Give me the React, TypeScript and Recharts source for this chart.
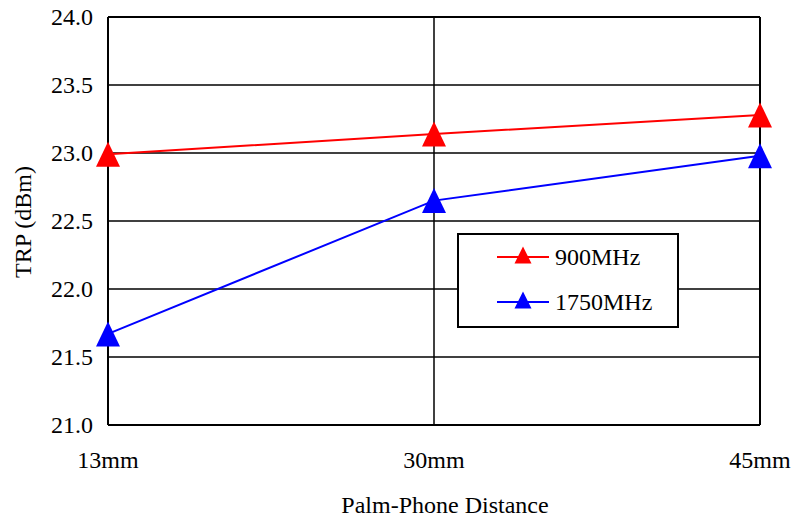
import { LineChart, Line, XAxis, YAxis, CartesianGrid, Legend, ReferenceLine } from 'recharts'

const FONT = '"Liberation Serif", "Times New Roman", serif'
const FS = 24

const categories = ['13mm', '30mm', '45mm']
const trp900 = [22.99, 23.14, 23.28]
const trp1750 = [21.67, 22.65, 22.98]
const yTicks = [21.0, 21.5, 22.0, 22.5, 23.0, 23.5, 24.0]

const SERIES = [
  { key: 'f900', name: '900MHz', color: '#ff0000', values: trp900 },
  { key: 'f1750', name: '1750MHz', color: '#0000ff', values: trp1750 },
]

const chartData = categories.map((label, i) => ({
  idx: i,
  label,
  f900: trp900[i],
  f1750: trp1750[i],
}))

function triangle(cx: number, cy: number, w: number, h: number) {
  return `${cx},${cy - h / 2} ${cx + w / 2},${cy + h / 2} ${cx - w / 2},${cy + h / 2}`
}

function makeDot(color: string) {
  return (props: any) => {
    const { cx, cy, index } = props
    if (cx == null || cy == null) return <g key={index} />
    return <polygon key={index} points={triangle(cx, cy, 24, 25)} fill={color} />
  }
}

function XTick(props: any) {
  const { x, y, payload } = props
  return (
    <text x={x} y={y} dy={43} textAnchor="middle" style={{ fontFamily: FONT, fontSize: FS }} fill="#000">
      {categories[payload.value]}
    </text>
  )
}

function YTick(props: any) {
  const { x, y, payload } = props
  return (
    <text x={x} y={y} dy={8} textAnchor="end" style={{ fontFamily: FONT, fontSize: FS }} fill="#000">
      {Number(payload.value).toFixed(1)}
    </text>
  )
}

function LegendBox() {
  return (
    <svg width={222} height={95}>
      <rect x={1} y={1} width={220} height={93} fill="#fff" stroke="#000" strokeWidth={2} />
      {SERIES.map((s, i) => {
        const cy = 24 + i * 45
        return (
          <g key={s.key}>
            <line x1={40} x2={92} y1={cy} y2={cy} stroke={s.color} strokeWidth={2} />
            <polygon points={triangle(66, cy - 2, 17, 17)} fill={s.color} />
            <text x={98} y={cy + 8} style={{ fontFamily: FONT, fontSize: FS }} fill="#000">
              {s.name}
            </text>
          </g>
        )
      })}
    </svg>
  )
}

export default function App() {
  return (
    <div style={{ position: 'absolute', left: 0, top: 0, width: 796, height: 520, background: '#fff' }}>
      <LineChart
        width={796}
        height={520}
        data={chartData}
        margin={{ top: 17, right: 36, left: 0, bottom: 0 }}
      >
        <CartesianGrid stroke="#000" strokeWidth={1.5} />
        <XAxis
          dataKey="idx"
          type="number"
          domain={[0, 2]}
          ticks={[0, 1, 2]}
          height={95}
          tickSize={0}
          tickMargin={0}
          tick={<XTick />}
          axisLine={{ stroke: '#000', strokeWidth: 2 }}
          label={{
            content: () => (
              <text x={445} y={513} textAnchor="middle" style={{ fontFamily: FONT, fontSize: FS }} fill="#000">
                Palm-Phone Distance
              </text>
            ),
          }}
        />
        <YAxis
          type="number"
          domain={[21, 24]}
          ticks={yTicks}
          width={108}
          tickSize={0}
          tickMargin={15}
          tick={<YTick />}
          axisLine={{ stroke: '#000', strokeWidth: 2 }}
          label={{
            content: () => (
              <text
                x={31}
                y={222}
                textAnchor="middle"
                transform="rotate(-90 31 222)"
                style={{ fontFamily: FONT, fontSize: FS }}
                fill="#000"
              >
                TRP (dBm)
              </text>
            ),
          }}
        />
        <ReferenceLine y={24} stroke="#000" strokeWidth={2} />
        <ReferenceLine x={2} stroke="#000" strokeWidth={2} />
        <Legend
          layout="horizontal"
          verticalAlign="middle"
          align="center"
          wrapperStyle={{ left: 457, top: 233, width: 222, height: 95 }}
          content={() => <LegendBox />}
        />
        {SERIES.map((s) => (
          <Line
            key={s.key}
            dataKey={s.key}
            name={s.name}
            stroke={s.color}
            strokeWidth={2}
            dot={makeDot(s.color)}
            activeDot={false}
            isAnimationActive={false}
          />
        ))}
      </LineChart>
    </div>
  )
}
